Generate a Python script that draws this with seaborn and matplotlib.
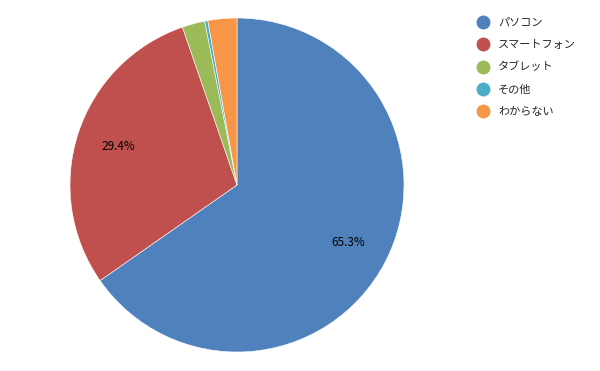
import matplotlib
matplotlib.use("Agg")
import matplotlib.pyplot as plt
from matplotlib.lines import Line2D
import seaborn as sns

# Device share data
labels = ["パソコン", "スマートフォン", "タブレット", "その他", "わからない"]
shares = [65.3, 29.4, 2.2, 0.3, 2.8]
colors = ["#4F81BD", "#C0504D", "#9BBB59", "#4BACC6", "#F79646"]

sns.set_theme(style="white")
plt.rcParams["font.family"] = ["Noto Sans CJK JP", "DejaVu Sans"]

fig = plt.figure(figsize=(6, 3.71), dpi=100)
r = 167
ax = fig.add_axes([(237 - r) / 600, (371 - 185 - r) / 371, 2 * r / 600, 2 * r / 371])

ax.pie(
    shares,
    colors=colors,
    startangle=90,
    counterclock=False,
    autopct=lambda p: f"{p:.1f}%" if p > 5 else "",
    pctdistance=0.75,
    textprops={"fontsize": 8.5, "color": "black"},
    wedgeprops={"linewidth": 0.4, "edgecolor": "white"},
)
ax.set_xlim(-1, 1)
ax.set_ylim(-1, 1)
ax.set_aspect("equal")

handles = [
    Line2D([0], [0], marker="o", linestyle="", markersize=9,
           markerfacecolor=c, markeredgecolor=c)
    for c in colors
]
leg = fig.legend(
    handles, labels,
    loc="upper left",
    bbox_to_anchor=(0.77, 0.98),
    frameon=False,
    fontsize=8,
    handletextpad=0.35,
    labelspacing=1.1,
)

fig.savefig("out.png", dpi=100)
